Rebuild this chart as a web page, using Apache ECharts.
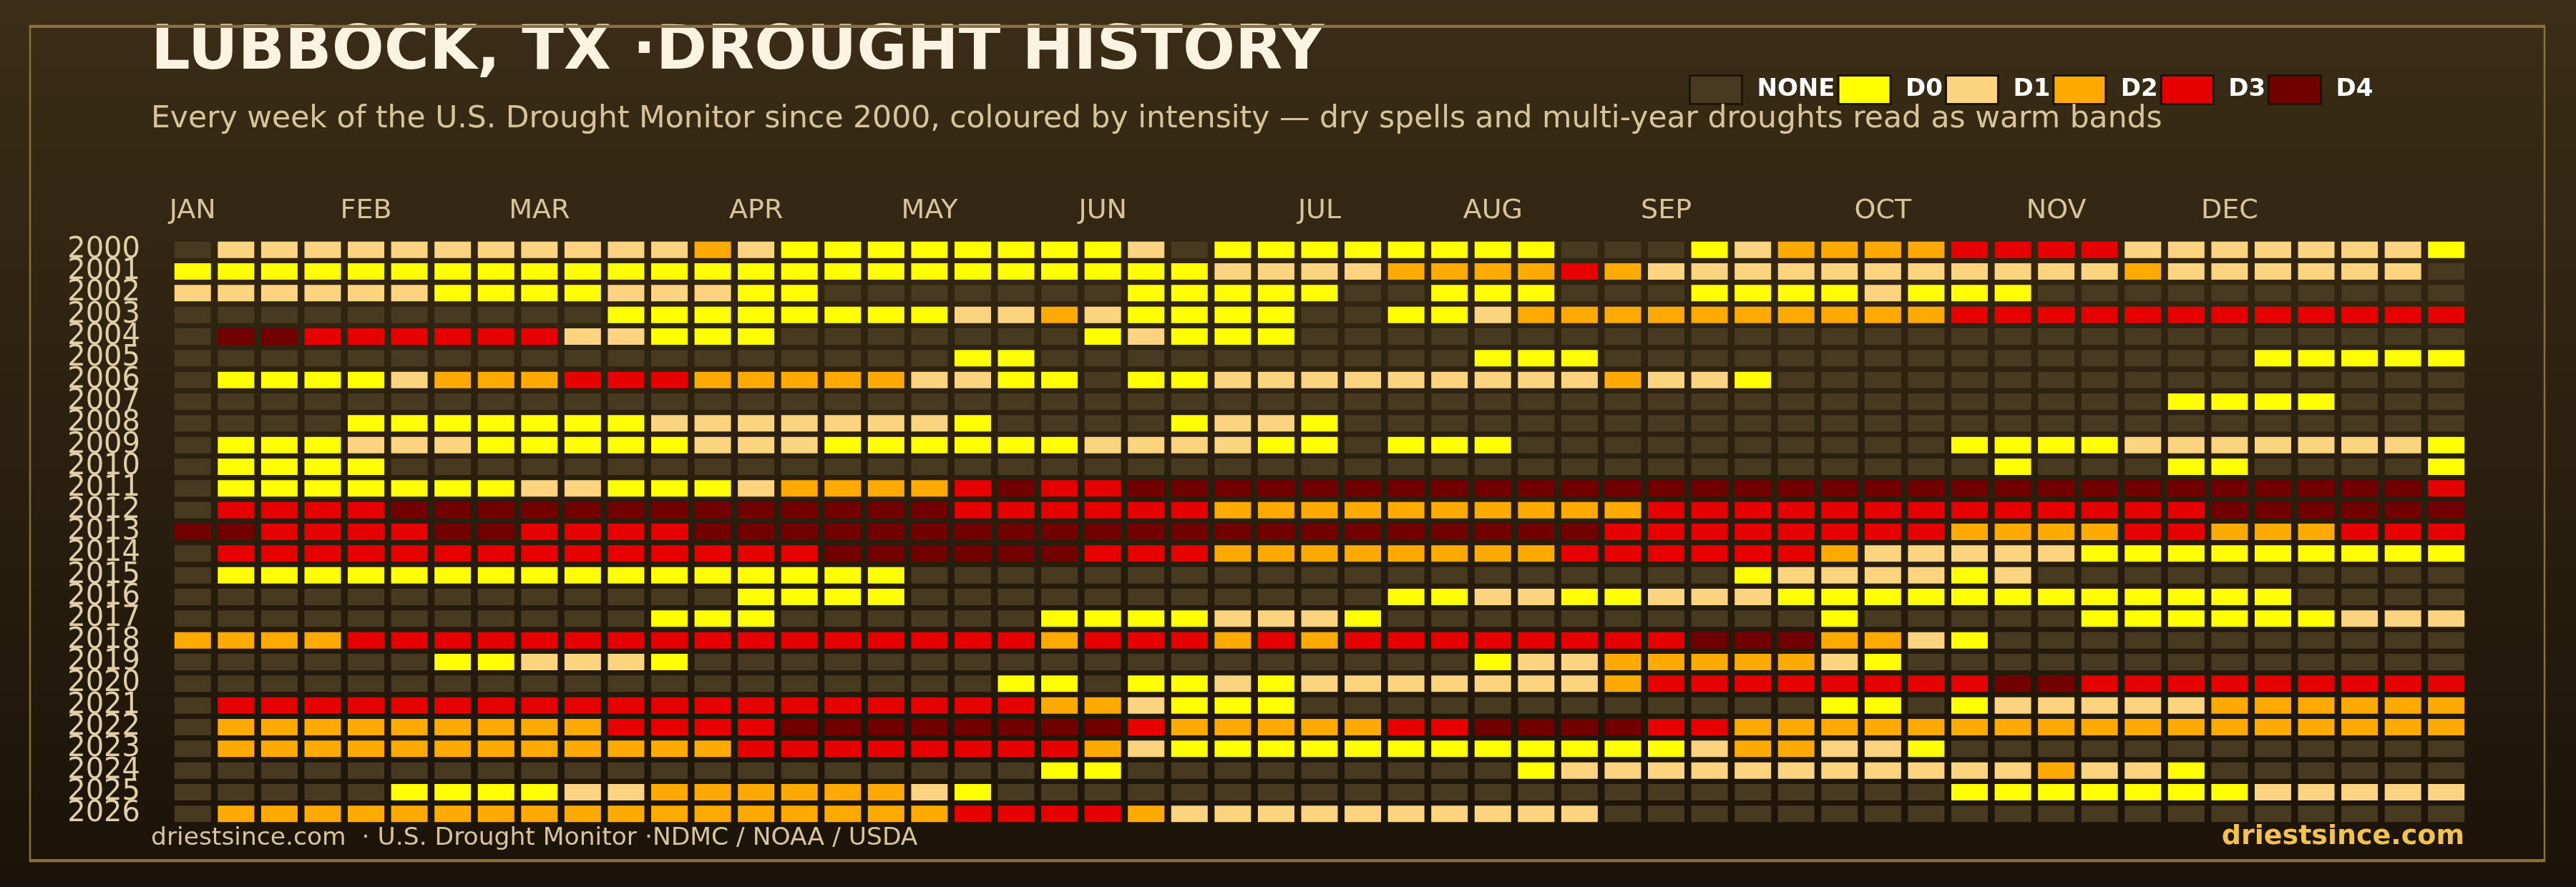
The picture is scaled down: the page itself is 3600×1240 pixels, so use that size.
<!DOCTYPE html>
<html><head><meta charset="utf-8">
<script src="https://cdn.jsdelivr.net/npm/echarts@6/dist/echarts.min.js"></script>
<style>html,body{margin:0;padding:0;background:#1c1409}#c{width:3600px;height:1240px}</style>
</head><body><div id="c"></div>
<script>
const _ = -1; // no drought
const years = ['2000','2001','2002','2003','2004','2005','2006','2007','2008','2009','2010','2011','2012','2013','2014','2015','2016','2017','2018','2019','2020','2021','2022','2023','2024','2025','2026'];
const monthNames = ['JAN','FEB','MAR','APR','MAY','JUN','JUL','AUG','SEP','OCT','NOV','DEC'];
const monthStartWeek = [0,4,8,13,17,21,26,30,34,39,43,47];
const levelNames = ['NONE','D0','D1','D2','D3','D4'];
const levelValues = [-1,0,1,2,3,4];
const levelColors = ['#473a20','#ffff00','#fcd37f','#ffaa00','#e60000','#730000'];

// weekly drought level per year (-1 none, 0..4 = D0..D4), 53 weeks
const w2000 = [_,1,1,1,1,1,1,1,1,1,1,1,2,1,0,0,0,0, 0,0,0,0,1,_,0,0,0,0,0,0,0,0,_,_,_,0, 1,2,2,2,2,3,3,3,3,1,1,1,1,1,1,1,0];
const w2001 = [0,0,0,0,0,0,0,0,0,0,0,0,0,0,0,0,0,0, 0,0,0,0,0,0,1,1,1,1,2,2,2,2,3,2,1,1, 1,1,1,1,1,1,1,1,1,2,1,1,1,1,1,1,_];
const w2002 = [1,1,1,1,1,1,0,0,0,0,1,1,1,0,0,_,_,_, _,_,_,_,0,0,0,0,0,_,_,0,0,0,_,_,_,0, 0,0,0,1,0,0,0,_,_,_,_,_,_,_,_,_,_];
const w2003 = [_,_,_,_,_,_,_,_,_,_,0,0,0,0,0,0,0,0, 1,1,2,1,0,0,0,0,_,_,0,0,1,2,2,2,2,2, 2,2,2,2,2,3,3,3,3,3,3,3,3,3,3,3,3];
const w2004 = [_,4,4,3,3,3,3,3,3,1,1,0,0,0,_,_,_,_, _,_,_,0,1,0,0,0,_,_,_,_,_,_,_,_,_,_, _,_,_,_,_,_,_,_,_,_,_,_,_,_,_,_,_];
const w2005 = [_,_,_,_,_,_,_,_,_,_,_,_,_,_,_,_,_,_, 0,0,_,_,_,_,_,_,_,_,_,_,0,0,0,_,_,_, _,_,_,_,_,_,_,_,_,_,_,_,0,0,0,0,0];
const w2006 = [_,0,0,0,0,1,2,2,2,3,3,3,2,2,2,2,2,1, 1,0,0,_,0,0,1,1,1,1,1,1,1,1,1,2,1,1, 0,_,_,_,_,_,_,_,_,_,_,_,_,_,_,_,_];
const w2007 = [_,_,_,_,_,_,_,_,_,_,_,_,_,_,_,_,_,_, _,_,_,_,_,_,_,_,_,_,_,_,_,_,_,_,_,_, _,_,_,_,_,_,_,_,_,_,0,0,0,0,_,_,_];
const w2008 = [_,_,_,_,0,0,0,0,0,0,0,1,1,1,1,1,1,1, 0,_,_,_,_,0,1,1,0,_,_,_,_,_,_,_,_,_, _,_,_,_,_,_,_,_,_,_,_,_,_,_,_,_,_];
const w2009 = [_,0,0,0,1,1,1,0,0,0,0,0,1,1,1,0,0,0, 0,0,0,1,1,1,1,0,0,_,0,0,0,_,_,_,_,_, _,_,_,_,_,0,0,0,0,1,1,1,1,1,1,1,0];
const w2010 = [_,0,0,0,0,_,_,_,_,_,_,_,_,_,_,_,_,_, _,_,_,_,_,_,_,_,_,_,_,_,_,_,_,_,_,_, _,_,_,_,_,_,0,_,_,_,0,0,_,_,_,_,0];
const w2011 = [_,0,0,0,0,0,0,0,1,1,0,0,0,1,2,2,2,2, 3,4,3,3,4,4,4,4,4,4,4,4,4,4,4,4,4,4, 4,4,4,4,4,4,4,4,4,4,4,4,4,4,4,4,3];
const w2012 = [_,3,3,3,3,4,4,4,4,4,4,4,4,4,4,4,4,4, 3,3,3,3,3,3,2,2,2,2,2,2,2,2,2,2,3,3, 3,3,3,3,3,3,3,3,3,3,3,4,4,4,4,4,4];
const w2013 = [4,4,3,3,3,3,4,4,3,3,3,3,4,4,4,4,4,4, 4,4,4,4,4,4,4,4,4,4,4,4,4,4,4,3,3,3, 3,3,3,3,3,2,2,2,2,3,3,2,2,2,3,3,3];
const w2014 = [_,3,3,3,3,3,3,3,3,3,3,3,3,3,3,4,4,4, 4,4,4,3,3,3,2,2,2,2,2,2,2,2,3,3,3,3, 3,3,2,1,1,1,1,1,0,0,0,0,0,0,0,0,0];
const w2015 = [_,0,0,0,0,0,0,0,0,0,0,0,0,0,0,0,0,_, _,_,_,_,_,_,_,_,_,_,_,_,_,_,_,_,_,_, 0,1,1,1,1,0,1,_,_,_,_,_,_,_,_,_,_];
const w2016 = [_,_,_,_,_,_,_,_,_,_,_,_,_,0,0,0,0,_, _,_,_,_,_,_,_,_,_,_,0,0,1,1,0,0,1,1, 1,0,0,0,0,0,0,0,0,0,0,0,0,_,_,_,_];
const w2017 = [_,_,_,_,_,_,_,_,_,_,_,0,0,0,_,_,_,_, _,_,0,0,0,0,1,1,1,0,_,_,_,_,_,_,_,_, _,_,0,_,_,_,_,_,0,0,0,0,0,0,1,1,1];
const w2018 = [2,2,2,2,3,3,3,3,3,3,3,3,3,3,3,3,3,3, 3,3,2,3,3,3,2,3,2,3,3,3,3,3,3,3,3,4, 4,4,2,2,1,0,_,_,_,_,_,_,_,_,_,_,_];
const w2019 = [_,_,_,_,_,_,0,0,1,1,1,0,_,_,_,_,_,_, _,_,_,_,_,_,_,_,_,_,_,_,0,1,1,2,2,2, 2,2,1,0,_,_,_,_,_,_,_,_,_,_,_,_,_];
const w2020 = [_,_,_,_,_,_,_,_,_,_,_,_,_,_,_,_,_,_, _,0,0,_,0,0,1,0,1,1,1,1,1,1,1,2,3,3, 3,3,3,3,3,3,4,4,3,3,3,3,3,3,3,3,3];
const w2021 = [_,3,3,3,3,3,3,3,3,3,3,3,3,3,3,3,3,3, 3,3,2,2,1,0,0,0,_,_,_,_,_,_,_,_,_,_, _,_,0,0,_,0,1,1,1,1,1,2,2,2,2,2,2];
const w2022 = [_,2,2,2,2,2,2,2,2,2,3,3,3,3,4,4,4,4, 4,4,4,4,3,2,2,2,2,2,3,3,4,4,4,4,3,3, 2,2,2,2,2,2,2,2,2,2,2,2,2,2,2,2,2];
const w2023 = [_,2,2,2,2,2,2,2,2,2,2,2,2,3,3,3,3,3, 3,3,3,2,1,0,0,0,0,0,0,0,0,0,0,0,0,1, 2,2,1,1,0,_,_,_,_,_,_,_,_,_,_,_,_];
const w2024 = [_,_,_,_,_,_,_,_,_,_,_,_,_,_,_,_,_,_, _,_,0,0,_,_,_,_,_,_,_,_,_,0,1,1,1,1, 1,1,1,1,1,1,1,2,1,1,0,_,_,_,_,_,_];
const w2025 = [_,_,_,_,_,0,0,0,0,1,1,2,2,2,2,2,2,1, 0,_,_,_,_,_,_,_,_,_,_,_,_,_,_,_,_,_, _,_,_,_,_,0,0,0,0,0,0,0,1,1,1,1,1];
const w2026 = [_,2,2,2,2,2,2,2,2,2,2,2,2,2,2,2,2,2, 3,3,3,3,2,1,1,1,1,1,1,1,1,1,1,_,_,_, _,_,_,_,_,_,_,_,_,_,_,_,_,_,_,_,_];

const rows = [w2000,w2001,w2002,w2003,w2004,w2005,w2006,w2007,w2008,w2009,w2010,w2011,w2012,w2013,w2014,w2015,w2016,w2017,w2018,w2019,w2020,w2021,w2022,w2023,w2024,w2025,w2026];

const weekCats = [];
for (let i = 0; i < 53; i++) weekCats.push('W' + (i + 1));

const FONT = 'DejaVu Sans';
const chart = echarts.init(document.getElementById('c'), null, {renderer: 'canvas'});

const series = levelValues.map((lv, k) => {
  const data = [];
  rows.forEach((row, r) => row.forEach((v, w) => { if (v === lv) data.push([w, r]); }));
  return {
    name: levelNames[k], type: 'scatter', symbol: 'rect', symbolSize: [51, 23],
    itemStyle: {color: levelColors[k], opacity: 1}, data, silent: true,
    emphasis: {disabled: true}, animation: false
  };
});

const legendText = {color: '#ffffff', fontFamily: FONT, fontWeight: 'bold', fontSize: 34};

chart.setOption({
  backgroundColor: {type: 'linear', x: 0, y: 0, x2: 0, y2: 1,
    colorStops: [{offset: 0, color: '#3b2d16'}, {offset: 1, color: '#1b1309'}]},
  animation: false,
  title: [
    {text: 'LUBBOCK, TX ·DROUGHT HISTORY', left: 211, top: 31, padding: 0,
      textStyle: {fontFamily: FONT, fontWeight: 'bold', fontSize: 86, color: '#fbf3e2'}},
    {text: 'Every week of the U.S. Drought Monitor since 2000, coloured by intensity — dry spells and multi-year droughts read as warm bands',
      left: 211, top: 145, padding: 0,
      textStyle: {fontFamily: FONT, fontWeight: 'normal', fontSize: 42.5, color: '#d8c49c'}},
    {text: 'driestsince.com  · U.S. Drought Monitor ·NDMC / NOAA / USDA', left: 211, top: 1155, padding: 0,
      textStyle: {fontFamily: FONT, fontWeight: 'normal', fontSize: 34.5, color: '#d8c49c'}},
    {text: 'driestsince.com', right: 156, top: 1151, padding: 0,
      textStyle: {fontFamily: FONT, fontWeight: 'bold', fontSize: 38, color: '#f2c14e'}}
  ],
  legend: {
    data: levelNames.map((n, k) => ({
      name: n,
      textStyle: Object.assign({}, legendText, {padding: k === 0 ? [0, 3, 0, 16] : [0, 43, 0, 16]})
    })),
    left: 2360, top: 104, padding: 0, orient: 'horizontal',
    itemWidth: 73, itemHeight: 40, itemGap: 3, icon: 'rect',
    itemStyle: {borderColor: '#1c1309', borderWidth: 3},
    selectedMode: false,
    textStyle: legendText
  },
  grid: {left: 239, right: 151, top: 334, bottom: 87, containLabel: false},
  xAxis: {
    type: 'category', data: weekCats, position: 'top',
    axisLine: {show: false}, axisTick: {show: false}, splitLine: {show: false},
    axisLabel: {
      interval: 0, margin: 20, color: '#d8c49c', fontFamily: FONT, fontSize: 38,
      formatter: (v, i) => { const m = monthStartWeek.indexOf(i); return m >= 0 ? monthNames[m] : ''; }
    }
  },
  yAxis: {
    type: 'category', data: years, inverse: true,
    axisLine: {show: false}, axisTick: {show: false}, splitLine: {show: false},
    axisLabel: {interval: 0, margin: 43, color: '#e0cfa8', fontFamily: FONT, fontSize: 40, align: 'right'}
  },
  series,
  graphic: [
    {type: 'rect', silent: true, z: 100, shape: {x: 42, y: 36, width: 3514, height: 1168},
      style: {fill: 'none', stroke: '#8b7139', lineWidth: 2.5}},
    {type: 'rect', silent: true, z: 100, shape: {x: 41, y: 35, width: 3516, height: 4},
      style: {fill: '#8b7139'}},
    {type: 'rect', silent: true, z: 100, shape: {x: 41, y: 1201, width: 3516, height: 4},
      style: {fill: '#8b7139'}}
  ]
});
</script></body></html>
